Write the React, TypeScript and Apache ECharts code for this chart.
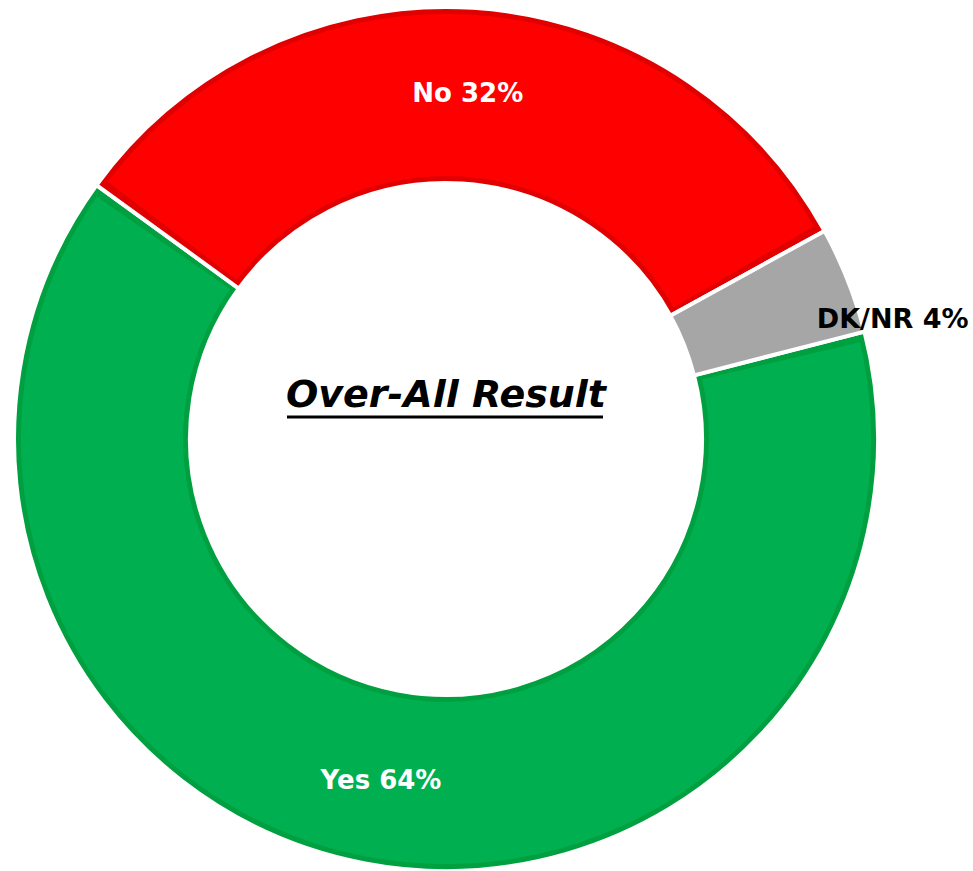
import React, { useEffect, useRef } from "react";
import * as echarts from "echarts";

const categories = ["Yes", "No", "DK/NR"];
const values = [64, 32, 4];
const fillColors = ["#00B050", "#FF0000", "#A6A6A6"];
const edgeColors = ["#00A041", "#E00000", "#A6A6A6"];
const labelColors = ["#FFFFFF", "#FFFFFF", "#000000"];
const titleText = "Over-All Result";

export default function App() {
  const ref = useRef<HTMLDivElement>(null);
  useEffect(() => {
    if (!ref.current) return;
    const chart = echarts.init(ref.current, null, { renderer: "svg" });
    const cx = 446;
    const cy = 439;
    const Ri = 256;
    const Ro = 432;
    const font = "'DejaVu Sans', 'Open Sans', sans-serif";
    const baseData = categories.map((name, i) => ({
      name,
      value: values[i],
      itemStyle: { color: edgeColors[i] },
    }));
    const topData = categories.map((name, i) => ({
      name,
      value: values[i],
      itemStyle: { color: fillColors[i] },
      label: {
        color: labelColors[i],
        ...(name === "DK/NR" ? { offset: [124, 7], fontSize: 27 } : {}),
      },
    }));
    chart.setOption({
      animation: false,
      series: [
        {
          type: "pie",
          center: [cx, cy],
          radius: [Ri, Ro],
          startAngle: 14.4,
          clockwise: true,
          silent: true,
          itemStyle: { borderColor: "#FFFFFF", borderWidth: 4 },
          label: { show: false },
          labelLine: { show: false },
          data: baseData,
        },
        {
          type: "pie",
          center: [cx, cy],
          radius: [Ri + 7, Ro - 7],
          startAngle: 14.4,
          clockwise: true,
          padAngle: 2.5,
          silent: true,
          label: {
            show: true,
            position: "inside",
            formatter: (p: any) => `${p.name} ${p.value}%`,
            fontFamily: font,
            fontWeight: "bold",
            fontSize: 26,
          },
          labelLine: { show: false },
          data: topData,
        },
      ],
      graphic: [
        {
          type: "text",
          x: cx,
          y: 394,
          style: {
            text: titleText,
            fontFamily: font,
            fontWeight: "bold",
            fontStyle: "italic",
            fontSize: 38,
            fill: "#000000",
            textAlign: "center",
            textVerticalAlign: "middle",
          },
        },
        {
          type: "line",
          shape: { x1: 287, y1: 417, x2: 603, y2: 417 },
          style: { stroke: "#000000", lineWidth: 3 },
        },
      ],
    });
    return () => chart.dispose();
  }, []);
  return (
    <div
      ref={ref}
      style={{ position: "absolute", left: 0, top: 0, width: 973, height: 871 }}
    />
  );
}
